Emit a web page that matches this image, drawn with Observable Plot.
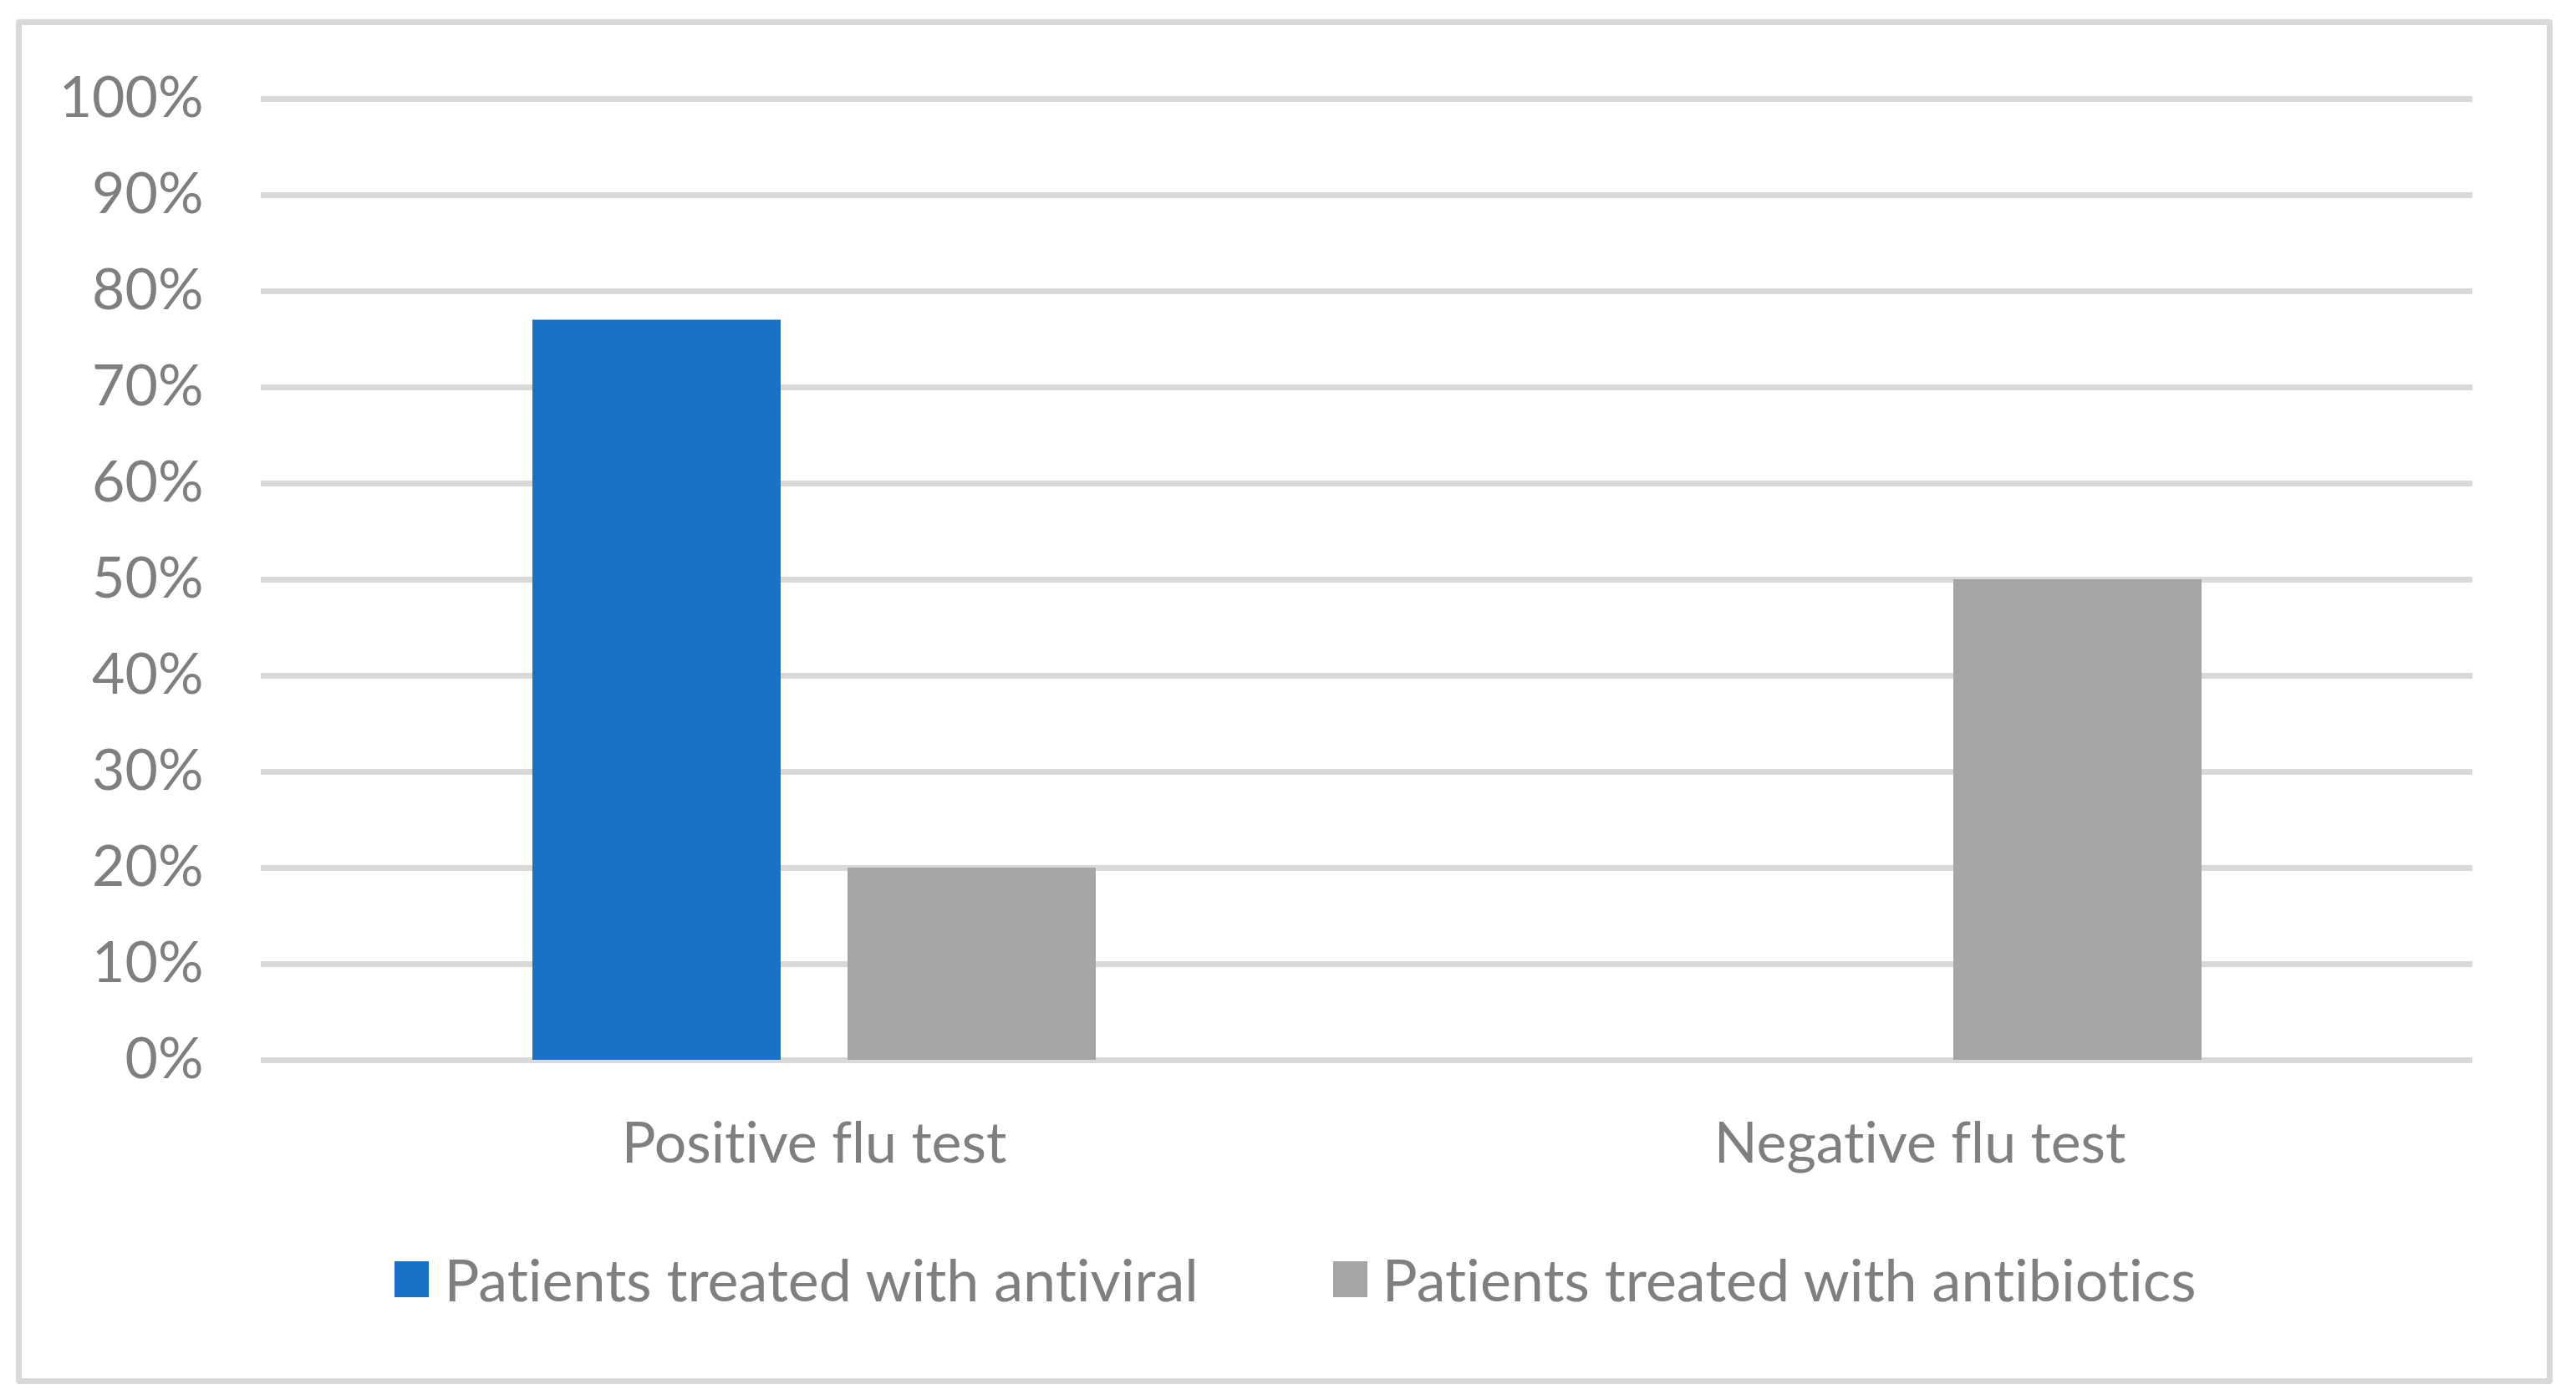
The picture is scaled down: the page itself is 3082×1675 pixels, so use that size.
<!DOCTYPE html>
<html><head><meta charset="utf-8">
<script src="https://cdn.jsdelivr.net/npm/d3@7"></script>
<script src="https://cdn.jsdelivr.net/npm/@observablehq/plot@0.6"></script>
<style>
html,body{margin:0;padding:0;background:#fff;width:3082px;height:1675px;overflow:hidden;font-family:Lato,"Open Sans",sans-serif;font-variant-ligatures:none;}
svg text{font-variant-ligatures:none;}
#frame{position:absolute;left:19px;top:23px;width:3035px;height:1633px;border:7px solid #d9d9d9;box-sizing:border-box;border-radius:4px;}
#chart{position:absolute;left:0;top:0;}
#legend{position:absolute;left:0;top:1488px;width:3100px;display:flex;justify-content:center;align-items:center;gap:161px;font-size:70px;line-height:1.2;color:#7f7f7f;}
.item{display:flex;align-items:center;white-space:nowrap;}
.sw{width:41px;height:43px;margin-right:18px;}
</style></head><body>
<div id="frame"></div><div id="chart"></div><div id="legend"></div>
<script>
const categories = ["Positive flu test", "Negative flu test"];
const seriesNames = ["Patients treated with antiviral", "Patients treated with antibiotics"];
const antiviral = [0.77, 0];
const antibiotics = [0.20, 0.50];
const seriesColors = ["#1873C8", "#A5A5A5"];
const yTicks = [0, 0.1, 0.2, 0.3, 0.4, 0.5, 0.6, 0.7, 0.8, 0.9, 1.0];

const rows = [];
categories.forEach((c, i) => {
  rows.push({category: c, series: seriesNames[0], value: antiviral[i]});
  rows.push({category: c, series: seriesNames[1], value: antibiotics[i]});
});

const chart = Plot.plot({
  width: 3082,
  height: 1420,
  marginLeft: 311,
  marginRight: 124,
  marginTop: 118,
  marginBottom: 152,
  style: {fontSize: "68px", fontFamily: "Lato, 'Open Sans', sans-serif", color: "#7f7f7f", background: "transparent"},
  facet: {data: rows, x: "category"},
  fx: {domain: categories, padding: 0, axis: "bottom", tickSize: 0, tickPadding: 74, label: null},
  x: {domain: seriesNames, paddingInner: 0.2135, paddingOuter: 0.861, axis: null, label: null},
  y: {domain: [0, 1], ticks: yTicks, tickFormat: d => Math.round(d * 100) + "%", tickSize: 0, tickPadding: 69, label: null},
  color: {domain: seriesNames, range: seriesColors},
  marks: [
    Plot.ruleY(yTicks, {stroke: "#d9d9d9", strokeWidth: 7}),
    Plot.barY(rows, {x: "series", y: "value", fill: "series"})
  ]
});
document.getElementById("chart").appendChild(chart);

const legend = document.getElementById("legend");
seriesNames.forEach((s, i) => {
  const item = document.createElement("div");
  item.className = "item";
  const sw = document.createElement("span");
  sw.className = "sw";
  sw.style.background = seriesColors[i];
  const t = document.createElement("span");
  t.textContent = s;
  item.appendChild(sw); item.appendChild(t);
  legend.appendChild(item);
});
</script>
</body></html>
